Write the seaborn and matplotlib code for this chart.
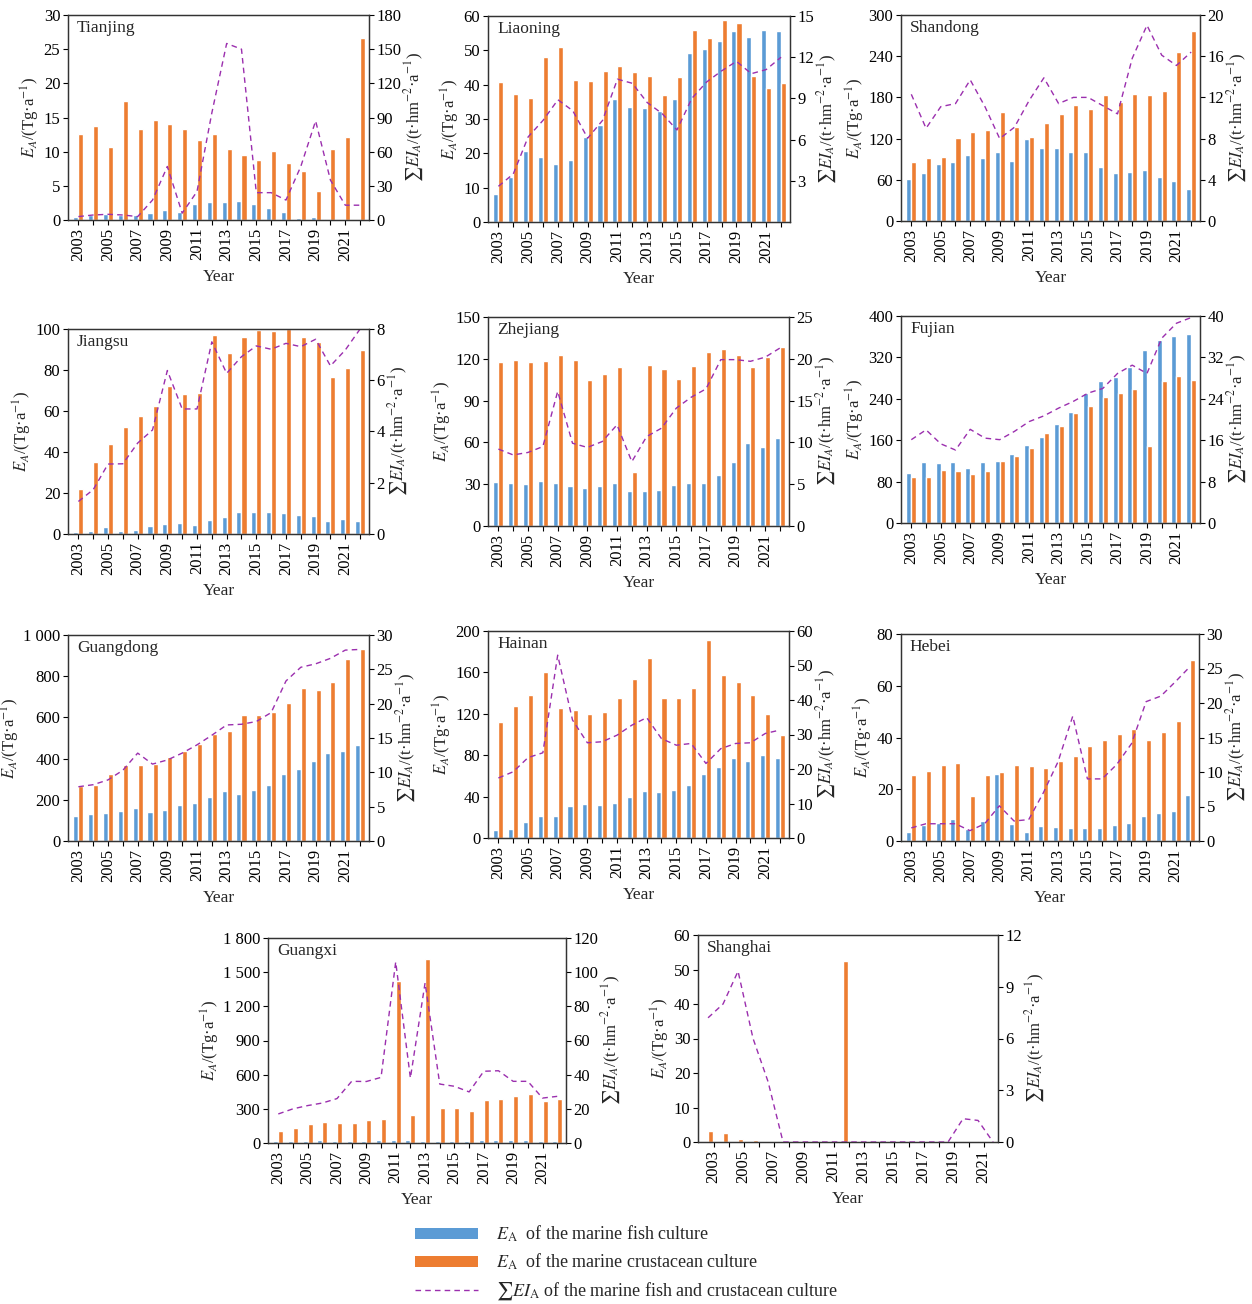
import numpy as np
import pandas as pd
import matplotlib
matplotlib.use("Agg")
import matplotlib.pyplot as plt
import seaborn as sns
from matplotlib.patches import Patch
from matplotlib.lines import Line2D
from matplotlib.ticker import FuncFormatter

# ---------------------------------------------------------------- data
years = list(range(2003, 2023))

tianjing_fish = [0.4, 0.8, 0.9, 0.7, 0.7, 1.0, 1.5, 1.1, 2.3, 2.7, 2.6, 2.8, 2.3, 1.8, 1.1, 0.3, 0.5, 0.1, 0.0, 0.0]
tianjing_crust = [12.6, 13.7, 10.7, 17.4, 13.3, 14.7, 14.1, 13.3, 11.7, 12.6, 10.4, 9.5, 8.8, 10.1, 8.3, 7.1, 4.2, 10.4, 12.2, 26.7]
tianjing_ei = [3, 4.4, 5, 4.4, 3, 17.5, 47, 6, 25, 94, 155, 150, 24, 24, 17.5, 47, 87, 35, 13, 13]

liaoning_fish = [8.2, 13.1, 20.6, 19.0, 16.8, 18.1, 24.8, 28.3, 35.8, 33.6, 33.3, 32.4, 35.8, 49.1, 50.4, 52.6, 55.6, 54.0, 55.8, 55.6]
liaoning_crust = [40.8, 37.4, 36.0, 48.0, 51.0, 41.5, 41.0, 43.9, 45.3, 43.6, 42.5, 37.0, 42.2, 55.8, 53.5, 58.9, 58.1, 42.6, 38.9, 40.4]
liaoning_ei = [2.6, 3.5, 6.2, 7.4, 8.9, 8.1, 6.1, 7.4, 10.4, 10.1, 8.7, 7.9, 6.7, 9.0, 10.2, 11.0, 11.7, 10.8, 11.1, 12.0]

shandong_fish = [61, 70, 83, 86, 96, 92, 101, 88, 120, 106, 106, 101, 101, 78, 70, 72, 74, 64, 58, 46]
shandong_crust = [86, 92, 93, 121, 130, 133, 159, 137, 122, 143, 156, 169, 163, 184, 173, 185, 184, 190, 246, 276]
shandong_ei = [12.3, 9.0, 11.1, 11.4, 13.7, 11.1, 8.0, 9.1, 11.7, 13.9, 11.4, 12.0, 12.0, 11.2, 10.4, 15.8, 19.0, 16.1, 15.1, 16.4]

jiangsu_fish = [0.8, 1.4, 3.3, 1.6, 1.8, 3.7, 4.8, 5.3, 4.4, 6.9, 8.3, 10.6, 10.7, 10.8, 10.3, 9.4, 8.6, 6.3, 7.4, 6.5]
jiangsu_crust = [22.0, 35.3, 43.7, 52.2, 57.6, 62.2, 72.3, 68.4, 68.8, 97.3, 88.3, 96.0, 99.5, 98.8, 100.0, 96.2, 93.5, 76.5, 80.9, 89.8]
jiangsu_ei = [1.27, 1.73, 2.73, 2.74, 3.55, 4.06, 6.38, 4.88, 4.88, 7.5, 6.27, 6.92, 7.34, 7.21, 7.44, 7.31, 7.6, 6.56, 7.18, 8.0]

zhejiang_fish = [31.7, 31.2, 30.3, 32.0, 31.2, 28.6, 27.4, 28.6, 31.2, 25.2, 25.2, 25.7, 29.5, 31.2, 31.2, 36.7, 45.7, 59.6, 56.6, 63.1]
zhejiang_crust = [117.6, 119.0, 117.6, 118.3, 122.5, 119.0, 105.1, 109.0, 113.8, 38.9, 115.7, 113.0, 105.8, 114.7, 125.1, 127.3, 122.5, 114.3, 121.1, 128.6]
zhejiang_ei = [9.2, 8.5, 8.8, 9.5, 16.1, 9.9, 9.4, 10.1, 12.1, 7.7, 10.7, 11.7, 14.1, 15.4, 16.4, 19.9, 19.9, 19.7, 20.2, 21.3]

fujian_fish = [96, 118, 115, 118, 107, 118, 120, 133, 151, 167, 192, 214, 251, 274, 282, 302, 334, 354, 361, 366]
fujian_crust = [88, 89, 102, 100, 94, 101, 120, 129, 145, 174, 188, 212, 226, 244, 252, 259, 149, 274, 284, 277]
fujian_ei = [16.1, 18.0, 15.3, 14.1, 18.1, 16.4, 16.1, 17.7, 19.6, 20.7, 22.2, 23.5, 25.1, 26.0, 28.9, 30.5, 28.9, 35.7, 38.6, 39.7]

guangdong_fish = [122, 131, 137, 148, 160, 141, 152, 176, 186, 213, 242, 226, 247, 273, 324, 349, 387, 426, 438, 468]
guangdong_crust = [265, 273, 323, 370, 368, 376, 410, 436, 470, 519, 533, 610, 610, 625, 670, 744, 734, 770, 882, 933]
guangdong_ei = [7.9, 8.2, 8.9, 10.3, 12.8, 11.2, 11.8, 12.8, 14.0, 15.4, 16.9, 17.0, 17.4, 18.7, 23.3, 25.3, 25.8, 26.6, 27.8, 27.9]

hainan_fish = [8, 9, 15, 21, 21.5, 30.5, 32.5, 32, 34, 40, 45, 44.5, 46, 51.5, 62, 69, 77.5, 74.5, 80, 77]
hainan_crust = [112.5, 128, 138.5, 160.5, 125.5, 123.5, 119.5, 122, 135, 153.5, 173.5, 135, 135, 144.5, 191, 157.5, 151, 138.5, 120, 99.5]
hainan_ei = [17.4, 19.2, 23.3, 24.7, 53.0, 34.2, 27.6, 27.9, 29.8, 32.7, 34.9, 28.8, 26.9, 27.4, 21.6, 25.9, 27.4, 27.6, 30.3, 31.3]

hebei_fish = [3.4, 6.2, 7.1, 8.5, 4.6, 7.9, 25.8, 6.5, 3.3, 5.8, 5.4, 5.1, 5.2, 5.2, 6.3, 6.8, 9.5, 10.8, 11.5, 17.8]
hebei_crust = [25.7, 27.2, 29.5, 30.2, 17.2, 25.7, 26.6, 29.5, 29.1, 28.2, 30.8, 33.0, 36.8, 39.0, 41.3, 43.1, 39.1, 42.2, 46.3, 70.0]
hebei_ei = [1.9, 2.5, 2.5, 2.5, 1.5, 2.5, 5.1, 2.9, 3.1, 7.0, 11.5, 18.1, 9.0, 9.0, 11.1, 14.1, 20.2, 21.0, 23.1, 25.3]

guangxi_fish = [18, 18, 20, 25, 20, 18, 20, 22, 25, 25, 20, 20, 20, 17, 22, 25, 25, 25, 18, 17]
guangxi_crust = [108, 132, 170, 182, 172, 177, 205, 213, 1425, 250, 1615, 308, 310, 283, 377, 383, 412, 428, 372, 384]
guangxi_ei = [17, 20, 21.9, 23.4, 26, 36.1, 36, 38.4, 106, 38, 93.7, 34.5, 33.2, 29.9, 42, 42.3, 36.1, 36.1, 26.3, 27.3]

shanghai_fish = [0.0] * 20
shanghai_crust = [3.3, 2.6, 0.9, 0.5, 0.1, 0, 0, 0, 0, 52.5, 0, 0, 0, 0, 0, 0, 0, 0.2, 0.2, 0]
shanghai_ei = [7.2, 8.0, 9.9, 6.0, 3.5, 0, 0, 0, 0, 0, 0, 0, 0, 0, 0, 0, 0, 1.35, 1.25, 0]

# ---------------------------------------------------------------- style
sns.set_theme(style="ticks")
plt.rcParams["font.family"] = ["Liberation Serif", "DejaVu Serif"]
plt.rcParams["mathtext.fontset"] = "stix"
plt.rcParams["axes.unicode_minus"] = False

BLUE = "#5B9BD5"
ORANGE = "#ED7D31"
PURPLE = "#9B2FAE"
DASH = (0, (4, 3))
EDGE = "#333333"
FS = 12

W, H = 1252, 1304
fig = plt.figure(figsize=(W / 100, H / 100), dpi=100)


def box(l, t, r, b):
    return [l / W, 1 - b / H, (r - l) / W, (b - t) / H]


def thousands(v, _):
    v = int(round(v))
    return f"{v:,}".replace(",", " ")


def panel(rect, name, fish, crust, ei, lmax, lstep, rmax, rticks,
          xlim=(-0.7, 19.6), tick_shift=0.0):
    ax = fig.add_axes(box(*rect))
    df = pd.DataFrame({
        "Year": [str(y) for y in years] * 2,
        "value": list(fish) + list(crust),
        "type": ["fish"] * len(years) + ["crust"] * len(years),
    })
    sns.barplot(data=df, x="Year", y="value", hue="type",
                hue_order=["fish", "crust"], palette=[BLUE, ORANGE],
                width=0.68, saturation=1, errorbar=None, legend=False,
                ax=ax)
    ax2 = ax.twinx()
    sns.lineplot(x=np.arange(len(years)), y=ei, ax=ax2, color=PURPLE,
                 lw=1.0, linestyle=DASH)

    ax.set_xticks(np.arange(len(years)) + tick_shift)
    ax.set_xticklabels([str(y) if (y - 2003) % 2 == 0 else "" for y in years],
                       rotation=90, fontsize=FS)
    ax.set_xlim(*xlim)

    ax.set_ylim(0, lmax)
    ax.set_yticks(np.arange(0, lmax + 1e-9, lstep))
    ax.yaxis.set_major_formatter(FuncFormatter(thousands))
    ax2.set_ylim(0, rmax)
    ax2.set_yticks(rticks)

    ax.set_xlabel("Year", fontsize=12.5, labelpad=6)
    ax.set_ylabel(r"$E_A$/(Tg·a$^{-1}$)", fontsize=FS, labelpad=1)
    ax2.set_ylabel(r"$\sum EI_A$/(t·hm$^{-2}$·a$^{-1}$)", fontsize=FS, labelpad=1)
    ax2.set_xlabel("")

    for a in (ax, ax2):
        a.tick_params(direction="out", length=3.5, width=0.8, labelsize=FS,
                      colors="black", pad=2)
        for s in a.spines.values():
            s.set_visible(True)
            s.set_color(EDGE)
            s.set_linewidth(0.9)
    ax.text(0.03, 0.975, name, transform=ax.transAxes, ha="left", va="top",
            fontsize=12.5)
    return ax, ax2


panel((68, 15, 369, 220), "Tianjing", tianjing_fish, tianjing_crust, tianjing_ei,
      30, 5, 180, [0, 30, 60, 90, 120, 150, 180])
panel((488, 16, 790, 222), "Liaoning", liaoning_fish, liaoning_crust, liaoning_ei,
      60, 10, 15, [3, 6, 9, 12, 15])
panel((901, 15, 1200, 221), "Shandong", shandong_fish, shandong_crust, shandong_ei,
      300, 60, 20, [0, 4, 8, 12, 16, 20])
panel((68, 329, 369, 534), "Jiangsu", jiangsu_fish, jiangsu_crust, jiangsu_ei,
      100, 20, 8, [0, 2, 4, 6, 8])
panel((488, 317, 789, 526), "Zhejiang", zhejiang_fish, zhejiang_crust, zhejiang_ei,
      150, 30, 25, [0, 5, 10, 15, 20, 25])
panel((901, 316, 1200, 523), "Fujian", fujian_fish, fujian_crust, fujian_ei,
      400, 80, 40, [0, 8, 16, 24, 32, 40])
panel((68, 635, 369, 841), "Guangdong", guangdong_fish, guangdong_crust, guangdong_ei,
      1000, 200, 30, [0, 5, 10, 15, 20, 25, 30])
panel((488, 631, 789, 838), "Hainan", hainan_fish, hainan_crust, hainan_ei,
      200, 40, 60, [0, 10, 20, 30, 40, 50, 60])
panel((901, 634, 1199, 841), "Hebei", hebei_fish, hebei_crust, hebei_ei,
      80, 20, 30, [0, 5, 10, 15, 20, 25, 30])
panel((268, 938, 566, 1143), "Guangxi", guangxi_fish, guangxi_crust, guangxi_ei,
      1800, 300, 120, [0, 20, 40, 60, 80, 100, 120])
panel((698, 935, 998, 1142), "Shanghai", shanghai_fish, shanghai_crust, shanghai_ei,
      60, 10, 12, [0, 3, 6, 9, 12], xlim=(-0.67, 19.33), tick_shift=0.38)

# ---------------------------------------------------------------- legend
handles = [
    Patch(facecolor=BLUE, edgecolor="none"),
    Patch(facecolor=ORANGE, edgecolor="none"),
    Line2D([], [], color=PURPLE, lw=1.0, linestyle=DASH),
]
labels = [
    r"$E_{\mathrm{A}}$  of the marine fish culture",
    r"$E_{\mathrm{A}}$  of the marine crustacean culture",
    r"$\sum EI_{\mathrm{A}}$ of the marine fish and crustacean culture",
]
fig.legend(handles, labels, loc="upper left",
           bbox_to_anchor=(415 / W, 1 - 1224 / H), frameon=False,
           fontsize=13, handlelength=3.5, handleheight=0.5,
           handletextpad=1.0, labelspacing=0.42, borderpad=0,
           borderaxespad=0)

fig.savefig("out.png", dpi=100)
